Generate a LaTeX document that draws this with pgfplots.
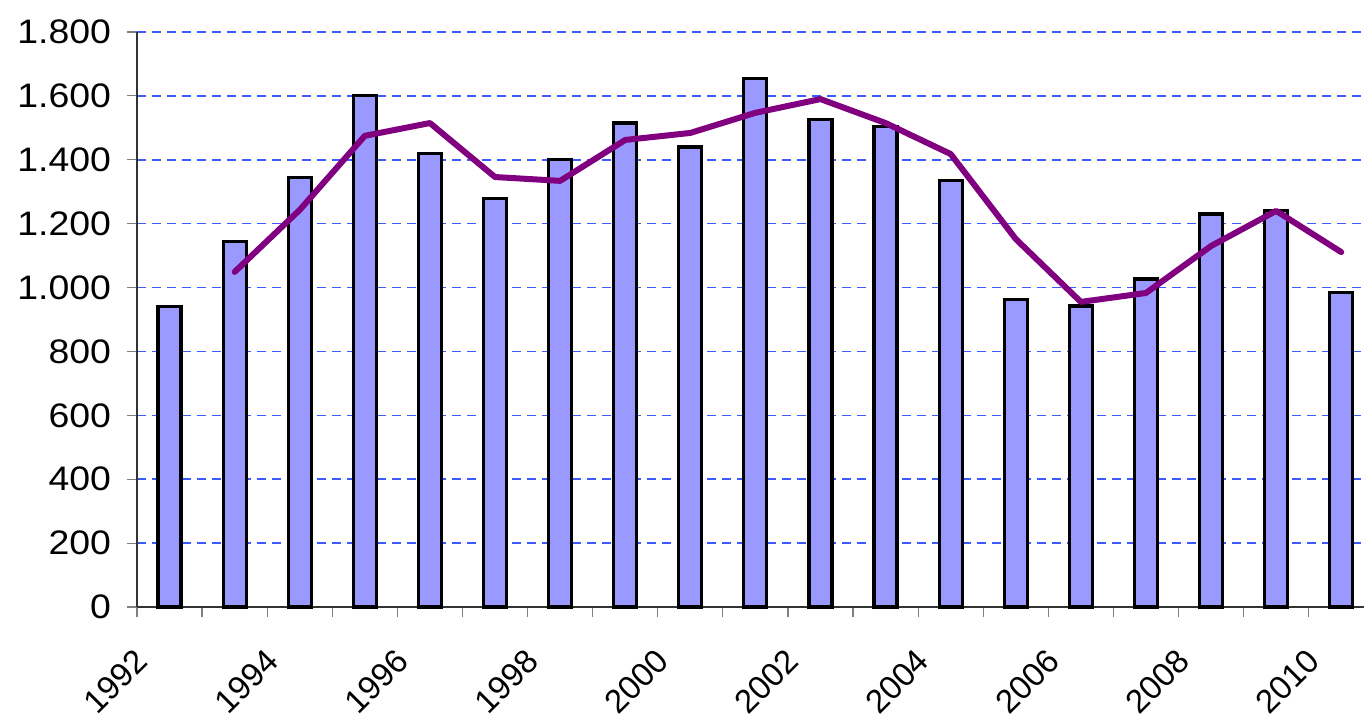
\documentclass[border=0pt]{standalone}
\usepackage{pgfplots}
\pgfplotsset{compat=1.18}
\usepackage{fontspec}
\setmainfont{Liberation Sans}[FakeStretch=1.1]
\newfontfamily\xlabfont{Liberation Sans}
\definecolor{barfill}{RGB}{153,153,255}
\definecolor{avgline}{RGB}{128,0,128}
\definecolor{gridblue}{RGB}{60,90,255}
\begin{document}
\begin{tikzpicture}
\begin{axis}[
  scale only axis, width=613.5pt, height=287.5pt,
  xmin=-0.5, xmax=18.35, ymin=0, ymax=1800,
  axis x line=bottom, axis y line=left,
  axis line style={-, black!80, line width=0.6pt},
  tick align=outside, major tick length=5pt,
  tick style={line width=0.6pt},
  xtick={-0.5,0.5,...,17.5}, xticklabels={},
  extra x ticks={0,2,4,6,8,10,12,14,16,18},
  extra x tick labels={1992,1994,1996,1998,2000,2002,2004,2006,2008,2010},
  extra x tick style={major tick length=0pt,
    xticklabel style={font=\xlabfont\fontsize{16.5}{19}\selectfont,
      xshift=-18pt, yshift=-15pt, rotate=45, anchor=north east}},
  ytick={0,200,...,1800},
  ymajorgrids,
  major grid style={draw=gridblue, dash pattern=on 4.5pt off 3pt, line width=0.8pt},
  y grid style={draw=gridblue, dash pattern=on 4.5pt off 3pt, line width=0.8pt},
  tick label style={font=\fontsize{17}{20}\selectfont, black},
  yticklabel style={anchor=east, xshift=-4.5pt},
  /pgf/number format/1000 sep={.},
  /pgf/number format/assume math mode=true,
  clip=false,
]
\addplot[ybar, bar width=11.5pt, draw=black, line width=1.6pt, fill=barfill]
  coordinates {
  (0,940) (1,1145) (2,1345) (3,1600) (4,1420) (5,1280) (6,1400) (7,1515)
  (8,1440) (9,1655) (10,1525) (11,1505) (12,1335) (13,962) (14,942)
  (15,1027) (16,1230) (17,1240) (18,985)
  };
\addplot[avgline, line width=3pt, line join=round, line cap=round, mark=none]
  coordinates {
  (1,1049) (2,1243) (3,1475) (4,1515) (5,1346) (6,1334) (7,1462) (8,1484)
  (9,1547) (10,1590) (11,1515) (12,1418) (13,1152) (14,955) (15,983)
  (16,1130) (17,1240) (18,1111)
  };
\end{axis}
\pgfresetboundingbox
\path ([shift={(-68.5pt,-58pt)}]current axis.south west) rectangle ([shift={(0pt,16pt)}]current axis.north east);
\end{tikzpicture}
\end{document}
